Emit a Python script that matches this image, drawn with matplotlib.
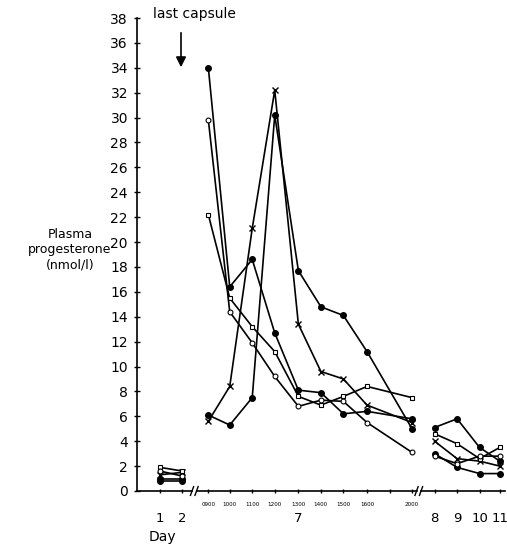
import matplotlib.pyplot as plt
import numpy as np

# ----------------------------
# Data
# ----------------------------

early_days = ["1", "2"]
early_x = [1.0, 2.0]

times = ["0900", "1000", "1100", "1200", "1300", "1400", "1500", "1600", "2000"]
times_x = [3.15, 4.1, 5.1, 6.1, 7.15, 8.15, 9.15, 10.2, 12.2]

late_days = ["8", "9", "10", "11"]
late_x = [13.2, 14.2, 15.2, 16.1]

# subject A (filled, starts at 34)
a_early = [0.8, 0.8]
a_day7 = [34.0, 16.4, 18.6, 12.7, 8.1, 7.9, 6.2, 6.4, 5.8]
a_late = [5.1, 5.8, 3.5, 2.4]

# subject B (filled, peak at 1200)
b_early = [1.0, 1.0]
b_day7 = [6.1, 5.3, 7.5, 30.2, 17.7, 14.8, 14.1, 11.2, 5.0]
b_late = [3.0, 1.9, 1.4, 1.4]

# subject C (crosses)
c_early = [1.3, 1.5]
c_day7 = [5.6, 8.4, 21.1, 32.2, 13.4, 9.6, 9.0, 6.9, 5.5]
c_late = [4.0, 2.6, 2.4, 2.0]

# subject D (open squares)
d_early = [1.9, 1.6]
d_day7 = [22.2, 15.5, 13.2, 11.2, 7.6, 6.9, 7.6, 8.4, 7.5]
d_late = [4.6, 3.8, 2.6, 3.5]

# subject E (open circles)
e_early = [1.6, 1.2]
e_day7 = [29.8, 14.4, 11.9, 9.2, 6.8, 7.3, 7.2, 5.5, 3.1]
e_late = [2.8, 2.2, 2.8, 2.8]

subjects = [
    (a_early, a_day7, a_late, dict(marker="o", mfc="black", ms=4)),
    (b_early, b_day7, b_late, dict(marker="o", mfc="black", ms=4)),
    (c_early, c_day7, c_late, dict(marker="x", ms=5, mew=1.0)),
    (d_early, d_day7, d_late, dict(marker="s", mfc="white", ms=3.5, mew=0.8)),
    (e_early, e_day7, e_late, dict(marker="o", mfc="white", ms=3.5, mew=0.8)),
]

# ----------------------------
# Figure
# ----------------------------

plt.rcParams["font.family"] = ["DejaVu Sans"]

W, H = 507, 546
fig = plt.figure(figsize=(W / 100, H / 100), dpi=100)
ax = fig.add_axes([137 / W, 55 / H, (505 - 137) / W, 473 / H])

x0, x1 = -0.02, 16.33
ax.set_xlim(x0, x1)
ax.set_ylim(0, 38)

for early, day7, late, style in subjects:
    for xs, ys in [(early_x, early), (times_x, day7), (late_x, late)]:
        ax.plot(xs, ys, color="black", lw=1.2, mec="black", clip_on=False, **style)

# ----------------------------
# Axes styling
# ----------------------------

for side in ["top", "right", "bottom"]:
    ax.spines[side].set_visible(False)
ax.spines["left"].set_linewidth(1.2)

ax.set_yticks(np.arange(0, 39, 2))
ax.tick_params(axis="y", direction="inout", length=5, width=1, labelsize=10, pad=4)

# x axis with breaks
brk1 = (early_x[-1] + times_x[0]) / 2 - 0.05
brk2 = (times_x[-1] + late_x[0]) / 2 - 0.2
gap = 0.1
segs = [(x0, brk1 - gap), (brk1 + gap, brk2 - gap), (brk2 + gap, x1)]
for s0, s1 in segs:
    ax.plot([s0, s1], [0, 0], color="black", lw=1.2, clip_on=False)
for b in [brk1, brk2]:
    for dx in [-gap, gap]:
        ax.plot([b + dx - 0.07, b + dx + 0.07], [-0.35, 0.35], color="black", lw=1, clip_on=False)

tick_x = early_x + times_x + [11.2] + late_x
ax.set_xticks(tick_x)
ax.set_xticklabels([])
ax.tick_params(axis="x", direction="inout", length=3, width=1)

for x, t in zip(times_x, times):
    ax.text(x, -0.9, t, fontsize=4.5, ha="center", va="top", fontstretch="condensed")
for x, d in zip(early_x + late_x, early_days + late_days):
    ax.text(x, -1.7, d, fontsize=9.5, ha="center", va="top")
ax.text(times_x[4], -1.7, "7", fontsize=9.5, ha="center", va="top")
ax.text(early_x[0] + 0.1, -3.1, "Day", fontsize=10, ha="center", va="top")

fig.text(70 / W, 1 - 250 / H, "Plasma\nprogesterone\n(nmol/l)", fontsize=9,
         ha="center", va="center", linespacing=1.25)

fig.text(153 / W, 1 - 14 / H, "last capsule", fontsize=10, ha="left", va="center")
fig.add_artist(plt.matplotlib.patches.FancyArrowPatch(
    (181 / W, 1 - 30 / H), (181 / W, 1 - 70 / H), transform=fig.transFigure,
    arrowstyle="-|>,head_length=6,head_width=3", color="black", lw=1.2))

fig.savefig("out.png", dpi=100)
